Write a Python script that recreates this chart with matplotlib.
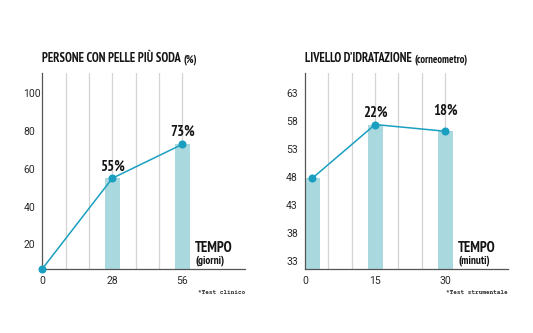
import matplotlib
matplotlib.use("Agg")
import matplotlib.pyplot as plt

# --- data ---------------------------------------------------------------
firm_days = [0, 28, 56]
firm_values = [7, 55, 73]
firm_labels = ["", "55%", "73%"]
firm_xticks = [0, 28, 56]
firm_yticks = [20, 40, 60, 80, 100]

hydr_minutes = [1.6, 15, 30]
hydr_values = [47.8, 57.4, 56.2]
hydr_labels = ["", "22%", "18%"]
hydr_xticks = [0, 15, 30]
hydr_yticks = [33, 38, 43, 48, 53, 58, 63]

LINE = "#1a9fc0"
BAR = "#a9d9df"
GRID = "#d4d4d4"
AXIS = "#555555"
TXT = "#151515"
COND = "PT Sans Narrow"
NUM = "Roboto"
MONO = "Courier Prime"

W, H = 533, 333
fig = plt.figure(figsize=(W / 100, H / 100), dpi=100)
fig.patch.set_facecolor("white")
renderer = fig.canvas.get_renderer()


def put(x_px, y_px, s, size, family, weight="bold", ha="left", color=TXT):
    """Place text using pixel coordinates measured from the top-left."""
    return fig.text(x_px / W, 1 - y_px / H, s, fontsize=size, family=family,
                    fontweight=weight, ha=ha, va="center", color=color)


def right_edge(t):
    return t.get_window_extent(renderer=renderer).x1


def panel(rect, xs, ys, labels, xticks, yticks, xlim, ylim, grid_x,
          bar_w, label_off, title, unit, tempo_unit, note, bar_mask):
    ax = fig.add_axes(rect)
    ax.set_xlim(*xlim)
    ax.set_ylim(*ylim)
    for g in grid_x:
        ax.axvline(g, color=GRID, lw=0.9, zorder=0)
    for x, y, show in zip(xs, ys, bar_mask):
        if show:
            ax.bar(x, y - ylim[0], bottom=ylim[0], width=bar_w,
                   color=BAR, zorder=1)
    ax.plot(xs, ys, color=LINE, lw=1.1, marker="o", ms=4.8,
            zorder=3, clip_on=False)
    for x, y, lab, off in zip(xs, ys, labels, label_off):
        if lab:
            ax.annotate(lab, (x, y), xytext=(0, off), textcoords="offset points",
                        ha="center", va="center", fontsize=10.5,
                        fontweight="bold", family=COND, color=TXT)
    for s in ["top", "right"]:
        ax.spines[s].set_visible(False)
    for s in ["left", "bottom"]:
        ax.spines[s].set_color(AXIS)
        ax.spines[s].set_linewidth(0.9)
    ax.set_xticks(xticks)
    ax.set_yticks(yticks)
    ax.tick_params(length=0, labelsize=7.5, labelcolor="#2a2a2a")
    ax.tick_params(axis="x", pad=5)
    ax.tick_params(axis="y", pad=13.5)
    for t in ax.get_xticklabels() + ax.get_yticklabels():
        t.set_family(NUM)
    for t in ax.get_yticklabels():
        t.set_horizontalalignment("left")

    x0 = rect[0] * W
    x1 = (rect[0] + rect[2]) * W
    tt = put(x0, 58.5, title, 9.0, COND)
    put(right_edge(tt) + 2.5, 59.5, unit, 7.6, COND)
    tx = x0 + (x1 - x0) * 0.755
    put(tx, 248.3, "TEMPO", 10.5, COND)
    put(tx, 261, tempo_unit, 8.0, COND)
    put(x1, 292.3, note, 4.4, MONO, ha="right", color="#333333")
    return ax


panel([42.3 / W, 1 - 269 / H, 202.7 / W, 196 / H],
      firm_days, firm_values, firm_labels,
      firm_xticks, firm_yticks, (0, 81), (6.9, 110.75),
      [28 / 3 * k for k in range(1, 7)], 5.9, [0, 8.5, 8.7],
      "PERSONE CON PELLE PIÙ SODA", "(%)", "(giorni)", "*Test clinico",
      [False, True, True])

panel([305 / W, 1 - 269 / H, 202.7 / W, 196 / H],
      hydr_minutes, hydr_values, hydr_labels,
      hydr_xticks, hydr_yticks, (0, 43.4), (31.5, 66.64),
      [5 * k for k in range(1, 7)], 3.2, [0, 8.7, 14.5],
      "LIVELLO D\u2019IDRATAZIONE", "(corneometro)", "(minuti)",
      "*Test strumentale", [True, True, True])

fig.savefig("out.png", dpi=100, facecolor="white")
